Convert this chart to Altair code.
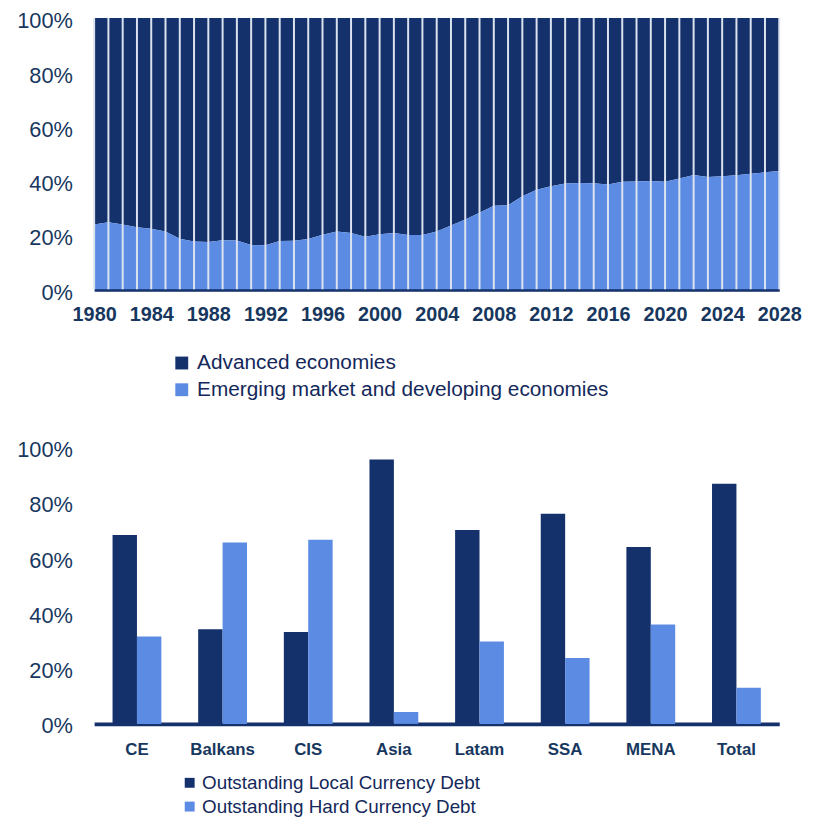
import altair as alt
import pandas as pd

# ---------------- data: top chart ----------------
years = list(range(1980, 2029))
emerging_share = [23.9, 24.7, 23.9, 22.9, 22.3, 21.3, 18.6, 17.6, 17.4, 18.1,
                  18.0, 16.3, 16.2, 17.8, 17.9, 18.5, 20.1, 21.3, 20.7, 19.4,
                  20.3, 20.7, 20.0, 20.0, 21.3, 23.5, 25.7, 28.2, 30.8, 31.0,
                  34.3, 36.7, 38.0, 39.0, 39.2, 39.1, 38.6, 39.6, 39.7, 39.9,
                  39.6, 40.8, 42.1, 41.4, 41.7, 42.0, 42.6, 43.1, 43.6]
top_series = ["Advanced economies", "Emerging market and developing economies"]
top_tick_labels = list(range(1980, 2029, 4))

# ---------------- data: bottom chart ----------------
regions = ["CE", "Balkans", "CIS", "Asia", "Latam", "SSA", "MENA", "Total"]
local_debt = [68.4, 34.3, 33.3, 95.7, 70.2, 76.1, 64.0, 86.9]
hard_debt = [31.6, 65.7, 66.7, 4.3, 29.8, 23.9, 36.0, 13.1]
bottom_series = ["Outstanding Local Currency Debt", "Outstanding Hard Currency Debt"]
pct_ticks = [0, 20, 40, 60, 80, 100]

DARK = "#14316B"
LIGHT = "#5B8BE3"
TEXT = "#17375E"
FONT = "Liberation Sans"

# ---------------- build tables ----------------
rows = []
for y, e in zip(years, emerging_share):
    rows.append({"year": y, "series": top_series[0], "value": 100 - e, "ord": 1})
    rows.append({"year": y, "series": top_series[1], "value": e, "ord": 0})
top_df = pd.DataFrame(rows)
grid_df = pd.DataFrame({"year": years})

brows = []
for r, l, h in zip(regions, local_debt, hard_debt):
    brows.append({"region": r, "series": bottom_series[0], "value": l})
    brows.append({"region": r, "series": bottom_series[1], "value": h})
bottom_df = pd.DataFrame(brows)

W = 692

# ---------------- top chart ----------------
area = alt.Chart(top_df).mark_area(interpolate="linear").encode(
    x=alt.X("year:Q",
            scale=alt.Scale(domain=[1980, 2028], nice=False, zero=False),
            axis=alt.Axis(values=top_tick_labels, format="d", title=None,
                          grid=False, ticks=False, tickSize=0,
                          domain=True, domainColor=DARK, domainWidth=4,
                          labelFont=FONT, labelFontSize=20, labelFontWeight="bold",
                          labelColor=TEXT, labelPadding=16, labelFlush=False,
                          labelOverlap=False, labelBound=False)),
    y=alt.Y("value:Q", stack="normalize",
            scale=alt.Scale(domain=[0, 1], nice=False),
            axis=alt.Axis(values=[0, 0.2, 0.4, 0.6, 0.8, 1.0], format=".0%",
                          title=None, grid=False, ticks=False, tickSize=0,
                          domain=False, labelFont=FONT, labelFontSize=22,
                          labelColor=TEXT, labelPadding=22, labelOffset=3)),
    color=alt.Color("series:N",
                    scale=alt.Scale(domain=top_series, range=[DARK, LIGHT]),
                    legend=alt.Legend(title=None, orient="none", legendX=78, legendY=338,
                                      symbolType="square", symbolSize=169,
                                      symbolStrokeWidth=0, symbolOpacity=1,
                                      labelFont=FONT, labelFontSize=21,
                                      labelColor="#14285A", labelOffset=5,
                                      labelLimit=700, rowPadding=5, padding=0)),
    order=alt.Order("ord:Q", sort="ascending"),
)

grid = alt.Chart(grid_df).mark_rule(color="#DCE3EF", strokeWidth=2).encode(
    x=alt.X("year:Q")
)

top = alt.layer(area, grid).properties(width=W, height=274)

# ---------------- bottom chart ----------------
bars = alt.Chart(bottom_df).mark_bar().encode(
    x=alt.X("region:N", sort=regions,
            scale=alt.Scale(paddingInner=0.43, paddingOuter=0.215),
            axis=alt.Axis(title=None, labelAngle=0, ticks=False, tickSize=0,
                          domain=True, domainColor=DARK, domainWidth=4,
                          labelFont=FONT, labelFontSize=17, labelFontWeight="bold",
                          labelColor=TEXT, labelPadding=18)),
    xOffset=alt.XOffset("series:N", sort=bottom_series),
    y=alt.Y("value:Q", scale=alt.Scale(domain=[0, 100], nice=False),
            axis=alt.Axis(values=pct_ticks, labelExpr="datum.value + '%'",
                          title=None, grid=False, ticks=False, tickSize=0,
                          domain=False, labelFont=FONT, labelFontSize=22,
                          labelColor=TEXT, labelPadding=22, labelOffset=2)),
    color=alt.Color("series:N",
                    scale=alt.Scale(domain=bottom_series, range=[DARK, LIGHT]),
                    legend=alt.Legend(title=None, orient="none", legendX=87, legendY=329,
                                      symbolType="square", symbolSize=100,
                                      symbolStrokeWidth=0, symbolOpacity=1,
                                      labelFont=FONT, labelFontSize=19,
                                      labelColor="#14285A", labelOffset=3,
                                      labelLimit=700, rowPadding=4, padding=0)),
).properties(width=W, height=279)

chart = alt.vconcat(top, bars, spacing=39).resolve_scale(
    color="independent"
).properties(
    padding={"left": 8, "top": -2, "right": 3, "bottom": 0}
).configure_view(stroke=None)

chart.save("out.html", embed_options={"renderer": "svg", "actions": False})
